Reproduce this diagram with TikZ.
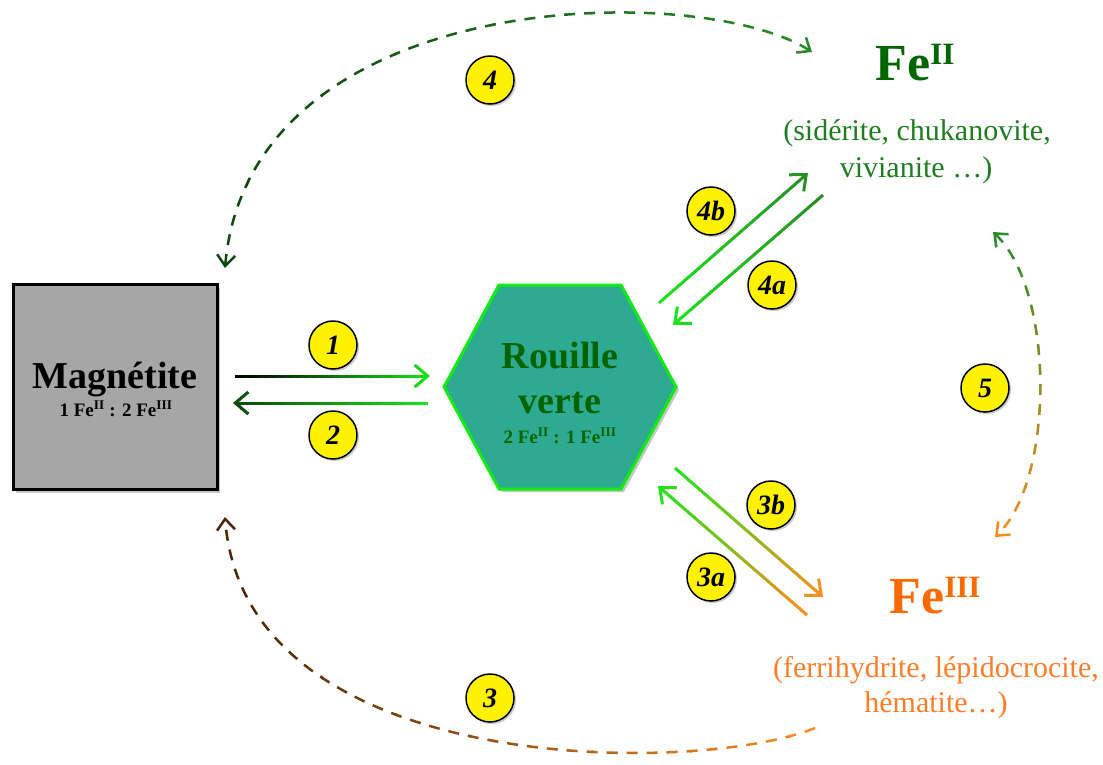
\documentclass[tikz,border=0pt]{standalone}
\usepackage{fontspec}
\setmainfont{Liberation Serif}
\usetikzlibrary{arrows.meta,shadows}

\definecolor{rvfill}{RGB}{45,170,145}
\definecolor{rvline}{RGB}{20,235,20}
\definecolor{rvtext}{RGB}{0,100,0}
\definecolor{feII}{RGB}{0,102,0}
\definecolor{feIIlight}{RGB}{30,125,30}
\definecolor{feIII}{RGB}{255,106,0}
\definecolor{feIIIlight}{RGB}{255,125,40}
\definecolor{brightgreen}{RGB}{25,230,25}
\definecolor{midgreen}{RGB}{40,140,40}
\definecolor{deepgreen}{RGB}{12,70,12}
\definecolor{arcorange}{RGB}{255,140,30}
\definecolor{arcbrown}{RGB}{70,35,5}

% stroke with a colour change along x (or y), drawn band by band
\newcommand{\gradx}[6]{%
  \foreach \k in {0,...,23}{%
    \pgfmathsetmacro{\lo}{\k==0 ? -0.3 : \k/24}%
    \pgfmathsetmacro{\hi}{\k==23 ? 1.3 : (\k+1)/24+0.004}%
    \pgfmathtruncatemacro{\pc}{100*(\k+0.5)/24}%
    \begin{scope}
      \clip ({#4+(#5-#4)*\lo},-100) rectangle ({#4+(#5-#4)*\hi},900);
      \draw[#1, draw=#3!\pc!#2] #6;
    \end{scope}}}
\newcommand{\grady}[6]{%
  \foreach \k in {0,...,23}{%
    \pgfmathsetmacro{\lo}{\k==0 ? -0.3 : \k/24}%
    \pgfmathsetmacro{\hi}{\k==23 ? 1.3 : (\k+1)/24+0.004}%
    \pgfmathtruncatemacro{\pc}{100*(\k+0.5)/24}%
    \begin{scope}
      \clip (-100,{#4+(#5-#4)*\lo}) rectangle (1300,{#4+(#5-#4)*\hi});
      \draw[#1, draw=#3!\pc!#2] #6;
    \end{scope}}}

\begin{document}
\begin{tikzpicture}[x=1pt, y=-1pt,
    box/.style={draw=black, line width=3pt, fill=gray!70, minimum width=204pt, minimum height=205pt,
      drop shadow={shadow xshift=3pt, shadow yshift=-3pt, opacity=.45}},
    hexa/.style={draw=rvline, line width=3pt, fill=rvfill, line join=miter,
      drop shadow={shadow xshift=3pt, shadow yshift=-3pt, opacity=.45}},
    bigtxt/.style={font=\fontsize{38}{40}\selectfont\bfseries, anchor=base, inner sep=0pt},
    ratiotxt/.style={font=\fontsize{19}{21}\selectfont\bfseries, anchor=base, inner sep=0pt},
    fetxt/.style={font=\fontsize{52}{54}\selectfont\bfseries, anchor=base, inner sep=0pt},
    mintxt/.style={font=\fontsize{30}{36}\selectfont, anchor=base, inner sep=0pt},
    stepnum/.style={circle, draw=black, line width=1.5pt, fill=yellow, minimum size=48pt, inner sep=0pt,
      font=\fontsize{28}{28}\selectfont\bfseries\itshape,
      drop shadow={shadow xshift=2pt, shadow yshift=-2pt, opacity=.4}},
    flow/.style={line width=3pt, -{Straight Barb[length=13pt,width=22pt]}},
    cycleboth/.style={line width=2.5pt, dash pattern=on 11pt off 9pt,
      {Straight Barb[length=11pt,width=18pt]}-{Straight Barb[length=11pt,width=18pt]}},
    cycleone/.style={line width=2.5pt, dash pattern=on 11pt off 9pt, -{Straight Barb[length=11pt,width=18pt]}}]
  \useasboundingbox (0,0) rectangle (1103,764);

  % magnetite
  \node[box] (mag) at (115,387) {};
  \node[bigtxt] (magt) at (115,388) {Magnétite};
  \node[ratiotxt] (magr) at (116,416) {1 Fe\textsuperscript{II} : 2 Fe\textsuperscript{III}};

  % rouille verte
  \draw[hexa] (444,387) -- (499,285) -- (621,285) -- (676,387) -- (621,489) -- (499,489) -- cycle;
  \node[bigtxt, text=rvtext] (rvt) at (560,368) {Rouille};
  \node[bigtxt, text=rvtext] (rvv) at (560,413) {verte};
  \node[ratiotxt, text=rvtext] (rvr) at (560,443) {2 Fe\textsuperscript{II} : 1 Fe\textsuperscript{III}};

  % Fe(II) and Fe(III)
  \node[fetxt, text=feII] (fe2) at (915,80) {Fe\raisebox{16pt}{\fontsize{31}{31}\selectfont II}};
  \node[mintxt, text=feIIlight] (fe2a) at (917,140) {(sidérite, chukanovite,};
  \node[mintxt, text=feIIlight] (fe2b) at (916,177) {vivianite …)};
  \node[fetxt, text=feIII] (fe3) at (935,613) {Fe\raisebox{16pt}{\fontsize{31}{31}\selectfont III}};
  \node[mintxt, text=feIIIlight] (fe3a) at (936,677) {(ferrihydrite, lépidocrocite,};
  \node[mintxt, text=feIIIlight] (fe3b) at (936,712) {hématite…)};

  % arrow ends
  \coordinate (a1s) at (235,376);  \coordinate (a1e) at (430,376);
  \coordinate (a2s) at (428,403);  \coordinate (a2e) at (233,403);
  \coordinate (a4bs) at (659,303); \coordinate (a4be) at (808,173);
  \coordinate (a4as) at (823,195); \coordinate (a4ae) at (673,325);
  \coordinate (a3bs) at (675,468); \coordinate (a3be) at (823,597);
  \coordinate (a3as) at (807,615); \coordinate (a3ae) at (658,486);
  \coordinate (c4s) at (812,52);   \coordinate (c4e) at (225,268);
  \coordinate (c3s) at (815,728);  \coordinate (c3e) at (225,517);
  \coordinate (c5s) at (993,232);  \coordinate (c5e) at (995,537);

  % straight arrows
  \gradx{flow}{black}{brightgreen}{235}{430}{(a1s) -- (a1e)}
  \gradx{flow}{brightgreen}{deepgreen}{428}{233}{(a2s) -- (a2e)}
  \gradx{flow}{brightgreen}{midgreen}{659}{808}{(a4bs) -- (a4be)}
  \gradx{flow}{midgreen}{brightgreen}{823}{673}{(a4as) -- (a4ae)}
  \gradx{flow}{brightgreen}{arcorange}{675}{823}{(a3bs) -- (a3be)}
  \gradx{flow}{arcorange}{brightgreen}{807}{658}{(a3as) -- (a3ae)}

  % dashed arcs
  \gradx{cycleboth}{midgreen}{deepgreen}{812}{225}{(c4s) .. controls (700,-20) and (250,-15) .. (c4e)}
  \gradx{cycleone}{arcorange}{arcbrown}{815}{225}{(c3s) .. controls (700,775) and (245,780) .. (c3e)}
  \grady{cycleboth}{midgreen}{arcorange}{232}{537}{(c5s) .. controls (1055,290) and (1055,480) .. (c5e)}

  % step numbers
  \node[stepnum] (n1) at (333,345) {1};
  \node[stepnum] (n2) at (333,435) {2};
  \node[stepnum] (n4) at (490,80) {4};
  \node[stepnum] (n3) at (490,698) {3};
  \node[stepnum] (n5) at (985,388) {5};
  \node[stepnum] (n4b) at (711,211) {4b};
  \node[stepnum] (n4a) at (772,285) {4a};
  \node[stepnum] (n3b) at (771,505) {3b};
  \node[stepnum] (n3a) at (711,577) {3a};
\end{tikzpicture}
\end{document}
